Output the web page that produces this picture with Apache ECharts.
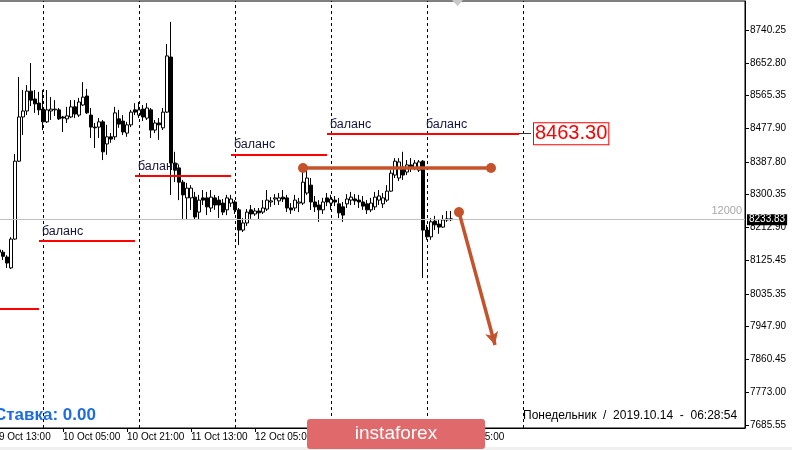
<!DOCTYPE html>
<html>
<head>
<meta charset="utf-8">
<script src="https://cdn.jsdelivr.net/npm/echarts@6/dist/echarts.min.js"></script>
<style>
html,body{margin:0;padding:0;background:#fff;}
#chart{width:792px;height:450px;}
</style>
</head>
<body>
<div id="chart"></div>
<script>
// ---- time axis (hourly bars, first category = 9 Oct 13:00) ----
const monthNames = ['Jan','Feb','Mar','Apr','May','Jun','Jul','Aug','Sep','Oct','Nov','Dec'];
const firstBar = Date.UTC(2019, 9, 9, 13);
const barCount = 187;
function pad(n){return (n<10?'0':'')+n;}
const categories = [];
for (let i = 0; i < barCount; i++) {
  const d = new Date(firstBar + i * 3600000);
  categories.push(d.getUTCDate() + ' ' + monthNames[d.getUTCMonth()] + ' ' + pad(d.getUTCHours()) + ':00');
}
const xTickLabels = ['9 Oct 13:00','10 Oct 05:00','10 Oct 21:00','11 Oct 13:00','12 Oct 05:00','12 Oct 21:00','13 Oct 13:00','14 Oct 05:00'];
const yTickLabels = [7685.55, 7773.00, 7860.45, 7947.90, 8035.35, 8125.45, 8212.90, 8300.35, 8387.80, 8477.90, 8565.35, 8652.80, 8740.25];

// ---- H1 candles [open, close, low, high] from 9 Oct 13:00 ----
const candles = [
[8153,8147,8136,8158],[8147,8136,8126,8153],[8134,8118,8105,8139],[8105,8182,8102,8187],
[8182,8390,8180,8409],[8390,8508,8388,8615],[8508,8524,8460,8580],[8524,8577,8513,8593],
[8577,8553,8537,8652],[8556,8543,8519,8580],[8545,8527,8513,8575],
[8529,8495,8473,8580],[8495,8527,8492,8580],[8524,8529,8500,8561],[8527,8529,8511,8553],
[8527,8503,8500,8532],[8508,8505,8468,8511],[8503,8511,8492,8535],[8508,8535,8505,8553],
[8535,8516,8505,8553],[8513,8548,8508,8559],[8540,8561,8537,8601],[8564,8519,8516,8583],
[8513,8481,8452,8532],[8481,8479,8425,8492],[8481,8495,8452,8505],[8495,8415,8393,8500],
[8436,8455,8407,8487],[8455,8449,8439,8465],[8455,8519,8447,8535],[8503,8489,8479,8527],
[8497,8468,8460,8513],[8465,8487,8455,8495],[8487,8521,8481,8527],[8527,8521,8513,8545],
[8513,8527,8505,8548],[8529,8508,8497,8540],[8505,8532,8500,8545],[8527,8473,8452,8532],
[8473,8492,8465,8500],[8492,8487,8447,8505],[8479,8521,8473,8532],[8521,8671,8519,8703],
[8668,8385,8300,8762],[8385,8366,8334,8415],[8372,8334,8286,8380],[8334,8300,8236,8340],
[8292,8318,8233,8332],[8292,8318,8260,8326],[8294,8241,8233,8308],[8254,8286,8233,8300],
[8292,8286,8273,8313],[8292,8268,8246,8308],[8265,8294,8254,8313],[8292,8273,8260,8300],
[8286,8273,8238,8297],[8278,8254,8246,8289],[8260,8292,8246,8300],[8278,8289,8268,8300],
[8281,8260,8249,8286],[8260,8206,8166,8265],[8206,8225,8201,8238],[8225,8254,8217,8262],
[8260,8249,8236,8273],[8249,8257,8244,8265],[8257,8252,8236,8265],[8254,8265,8249,8286],
[8262,8286,8257,8313],[8281,8284,8268,8294],[8289,8292,8273,8302],[8284,8292,8273,8305],
[8294,8289,8281,8313],[8292,8265,8254,8300],[8265,8260,8249,8278],[8265,8286,8257,8300],
[8278,8281,8254,8292],[8278,8334,8273,8374],[8305,8345,8300,8372],[8326,8281,8260,8345],
[8281,8268,8254,8297],[8273,8260,8228,8286],[8260,8281,8249,8292],[8292,8281,8270,8305],
[8278,8289,8260,8300],[8286,8281,8270,8297],[8276,8252,8238,8292],[8268,8246,8228,8281],
[8276,8289,8265,8302],[8286,8294,8273,8308],[8289,8284,8273,8302],[8286,8281,8265,8300],
[8281,8270,8260,8297],[8276,8260,8249,8286],[8260,8278,8254,8292],[8268,8294,8260,8308],
[8286,8297,8273,8313],[8276,8292,8265,8305],[8286,8310,8281,8326],[8310,8358,8308,8366],
[8353,8390,8345,8398],[8345,8388,8337,8398],[8374,8353,8340,8415],[8361,8380,8353,8393],
[8380,8372,8361,8398],[8372,8385,8366,8393],[8366,8388,8361,8393],[8390,8206,8078,8393],
[8206,8188,8180,8220],[8188,8228,8180,8238],[8230,8220,8206,8244],[8222,8214,8196,8233],
[8214,8233,8212,8246],[8233,8236,8228,8257],[8236,8233.83,8230,8257]
];

// ---- annotations ----
const periodSeparators = ['10 Oct 00:00','11 Oct 00:00','12 Oct 00:00','13 Oct 00:00','14 Oct 00:00','15 Oct 00:00'];
const balanceStart = ['9 Oct 13:00','9 Oct 23:00','10 Oct 23:00','11 Oct 23:00','12 Oct 23:00','13 Oct 23:00'];
const balanceEnd   = ['9 Oct 23:00','10 Oct 23:00','11 Oct 23:00','12 Oct 23:00','13 Oct 23:00','14 Oct 23:00'];
const balancePrice = [7995.3, 8176.8, 8350.4, 8407.8, 8463.3, 8463.3];
const balanceText  = ['', 'баланс', 'баланс', 'баланс', 'баланс', 'баланс'];
const priceTag = {from:'14 Oct 23:00', to:'15 Oct 02:00', price:8463.30, text:'8463.30'};
const levelLine = {from:'12 Oct 17:00', to:'14 Oct 16:00', price:8372};
const arrowLine = {from:'14 Oct 08:00', fromPrice:8254, to:'14 Oct 17:00', toPrice:7899};
const lastPrice = 8233.83;
const lineLabel = '12000';

const BROWN = '#c4522b';
const chart = echarts.init(document.getElementById('chart'), null, {renderer:'canvas'});

const balanceData = balancePrice.map((p, i) => [
  {coord:[balanceStart[i], p], label:{show: balanceText[i] !== '', formatter: balanceText[i]}},
  {coord:[balanceEnd[i], p]}
]);

const option = {
  animation: false,
  backgroundColor: '#fff',
  grid: {left: -3, right: 47, top: 1, bottom: 22, show: true, borderColor: '#000', borderWidth: 1, containLabel: false, outerBoundsMode: 'none'},
  xAxis: {
    type: 'category', data: categories, boundaryGap: true,
    axisLine: {show: true, lineStyle: {color: '#000', width: 1}},
    axisTick: {show: true, alignWithLabel: true, length: 4, lineStyle: {color: '#000'},
      interval: (idx, val) => xTickLabels.indexOf(val) >= 0},
    axisLabel: {interval: (idx, val) => xTickLabels.indexOf(val) >= 0, align: 'left', margin: 4,
      color: '#000', fontSize: 10, fontFamily: 'Liberation Sans'},
    splitLine: {show: false}
  },
  yAxis: {
    type: 'value', position: 'right', min: 7677.55, max: 8817.68, scale: true,
    axisLine: {show: true, lineStyle: {color: '#000', width: 1}},
    axisTick: {show: true, length: 4, lineStyle: {color: '#000'}, customValues: yTickLabels},
    axisLabel: {customValues: yTickLabels, formatter: v => v.toFixed(2), color: '#000', fontSize: 10,
      fontFamily: 'Liberation Sans', margin: 5},
    splitLine: {show: false}
  },
  series: [
    {
      type: 'candlestick', data: candles, barWidth: 3, clip: true,
      itemStyle: {color: '#fff', color0: '#000', borderColor: '#000', borderColor0: '#000', borderWidth: 1},
      markLine: {
        symbol: 'none', silent: true, animation: false,
        label: {show: false},
        lineStyle: {color: '#000', type: [3, 3], width: 1},
        data: periodSeparators.map(c => ({xAxis: c}))
      }
    },
    {
      type: 'line', data: [], silent: true,
      markLine: {
        symbol: 'none', silent: true, animation: false,
        data: [
          {yAxis: lastPrice, lineStyle: {color: '#c0c0c0', type: 'solid', width: 1},
           label: {show: true, position: 'insideEndTop', formatter: lineLabel, color: '#a8a8a8', fontSize: 11, fontFamily: 'Liberation Sans', distance: 3}},
          {yAxis: lastPrice, lineStyle: {color: '#c0c0c0', type: 'solid', width: 1},
           label: {show: true, position: 'end', formatter: lastPrice.toFixed(2), color: '#fff', backgroundColor: '#000',
             padding: [1, 2, 0, 2], fontSize: 10, fontFamily: 'Liberation Sans', distance: 2}}
        ]
      }
    },
    {
      type: 'line', data: [], silent: true,
      markLine: {
        symbol: 'none', silent: true, animation: false,
        lineStyle: {color: '#ff0000', type: 'solid', width: 2},
        label: {position: 'insideStartTop', color: '#14143c', fontSize: 12.5, fontFamily: 'Liberation Sans', distance: 3},
        data: balanceData.concat([[
          {coord: [priceTag.from, priceTag.price], lineStyle: {color: '#333', width: 1},
           label: {show: true, position: 'end', formatter: priceTag.text, color: '#ff0000', fontSize: 20,
             fontFamily: 'Liberation Sans', backgroundColor: '#fff', borderColor: '#ff0000', borderWidth: 1,
             padding: [1, 1, 0, 1], distance: 3}},
          {coord: [priceTag.to, priceTag.price]}
        ]])
      }
    },
    {
      type: 'line', data: [], silent: true,
      markLine: {
        silent: true, animation: false,
        label: {show: false},
        lineStyle: {color: BROWN, type: 'solid', width: 3.5},
        data: [
          [{coord: [levelLine.from, levelLine.price], symbol: 'circle', symbolSize: 10},
           {coord: [levelLine.to, levelLine.price], symbol: 'circle', symbolSize: 10}],
          [{coord: [arrowLine.from, arrowLine.fromPrice], symbol: 'circle', symbolSize: 10},
           {coord: [arrowLine.to, arrowLine.toPrice], symbol: 'arrow', symbolSize: [10, 13]}]
        ]
      }
    }
  ],
  graphic: [
    {type: 'rect', x: 0, y: 447, shape: {width: 792, height: 3}, style: {fill: '#f0f0f0'}, silent: true},
    {type: 'polygon', shape: {points: [[452, 0], [463, 0], [457.5, 6]]}, style: {fill: '#c8c8c8'}, silent: true},
    {type: 'text', x: -6, y: 407, style: {text: 'Ставка: 0.00', fill: '#1c6ee0', font: 'bold 17px "Liberation Sans"'}, silent: true},
    {type: 'text', x: 523, y: 410, style: {text: 'Понедельник  /  2019.10.14  -  06:28:54', fill: '#000', font: '12px "Liberation Sans"'}, silent: true},
    {type: 'rect', x: 307, y: 419, shape: {width: 178, height: 30, r: 3}, style: {fill: '#e0696b'}, silent: true, z: 100},
    {type: 'text', x: 396, y: 434, style: {text: 'instaforex', fill: '#fff', font: '19px "Liberation Sans"', align: 'center', verticalAlign: 'middle'}, silent: true, z: 101}
  ]
};
chart.setOption(option);
</script>
</body>
</html>
